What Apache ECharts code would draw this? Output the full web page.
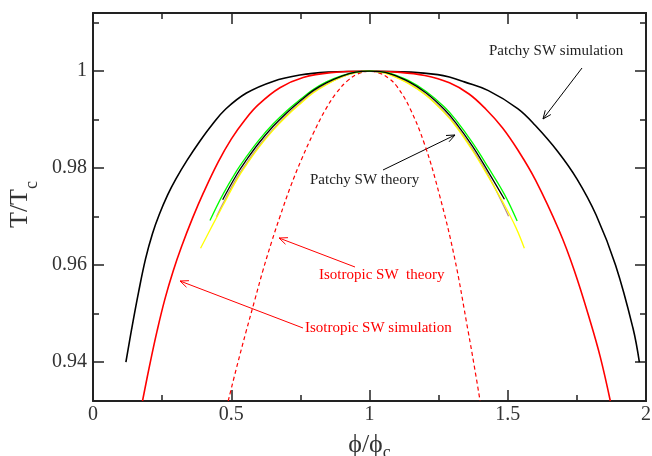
<!DOCTYPE html>
<html>
<head>
<meta charset="utf-8">
<script src="https://cdn.jsdelivr.net/npm/echarts@6/dist/echarts.min.js"></script>
<style>
  html, body { margin: 0; padding: 0; background: #fff; }
  #chart { width: 652px; height: 456px; }
</style>
</head>
<body>
<div id="chart"></div>
<script>
// Coexistence curves T/Tc versus phi/phi_c

// Patchy square-well, simulation
const phiPatchySim = [0.119, 0.14, 0.165, 0.19, 0.215, 0.24, 0.27, 0.30, 0.34, 0.387, 0.43, 0.48, 0.555, 0.651, 0.748, 0.85, 1.0,
                      1.15, 1.247, 1.289, 1.343, 1.43, 1.536, 1.60, 1.68, 1.75, 1.82, 1.89, 1.953, 1.976];
const tPatchySim   = [0.940, 0.9469, 0.9545, 0.9613, 0.9665, 0.9705, 0.9745, 0.9778, 0.9816, 0.9856, 0.9889, 0.9922, 0.9955, 0.9979, 0.9992, 0.9998, 1.0,
                      0.9998, 0.9993, 0.9988, 0.9978, 0.9960, 0.9923, 0.9888, 0.9835, 0.9778, 0.9703, 0.9600, 0.9470, 0.940];

// Isotropic square-well, simulation
const phiIsoSim = [0.179, 0.205, 0.232, 0.26, 0.29, 0.32, 0.36, 0.40, 0.453, 0.50, 0.55, 0.60, 0.676, 0.76, 0.86, 1.0,
                   1.1, 1.2, 1.289, 1.36, 1.422, 1.48, 1.536, 1.60, 1.687, 1.74, 1.798, 1.835, 1.871];
const tIsoSim   = [0.932, 0.9394, 0.9465, 0.9530, 0.9588, 0.9638, 0.9697, 0.9750, 0.9813, 0.9860, 0.9900, 0.9932, 0.9966, 0.9987, 0.9997, 1.0,
                   0.9998, 0.9991, 0.9976, 0.9953, 0.9921, 0.9884, 0.9838, 0.9776, 0.9670, 0.9590, 0.9485, 0.9410, 0.932];

// Isotropic square-well, theory
const phiIsoTheory = [0.489, 0.522, 0.555, 0.585, 0.615, 0.646, 0.676, 0.715, 0.754, 0.796, 0.84, 0.88, 0.92, 0.96, 1.0,
                      1.036, 1.07, 1.10, 1.145, 1.20, 1.253, 1.307, 1.356, 1.378, 1.40];
const tIsoTheory   = [0.932, 0.9395, 0.9466, 0.9528, 0.9590, 0.9648, 0.9700, 0.9763, 0.9818, 0.9871, 0.9920, 0.9955, 0.9980, 0.9995, 1.0,
                      0.9996, 0.9985, 0.9968, 0.9925, 0.9848, 0.9745, 0.9617, 0.9466, 0.9395, 0.932];

// Patchy square-well, theory (four variants)
const phiTheoryBlack = [0.469, 0.52, 0.555, 0.60, 0.651, 0.70, 0.748, 0.796, 0.844, 0.90, 0.95, 1.0,
                        1.04, 1.072, 1.14, 1.205, 1.271, 1.313, 1.373, 1.43, 1.488];
const tTheoryBlack   = [0.9735, 0.9787, 0.9817, 0.9852, 0.9886, 0.9914, 0.9938, 0.9960, 0.9976, 0.9990, 0.9998, 1.0,
                        0.9999, 0.9995, 0.9979, 0.9955, 0.9921, 0.9893, 0.9845, 0.9792, 0.9736];

const phiTheoryGreen = [0.423, 0.469, 0.52, 0.555, 0.60, 0.651, 0.70, 0.748, 0.796, 0.844, 0.90, 0.95, 1.0,
                        1.04, 1.072, 1.14, 1.205, 1.271, 1.313, 1.373, 1.43, 1.488, 1.534];
const tTheoryGreen   = [0.9692, 0.9745, 0.9795, 0.9824, 0.9858, 0.9891, 0.9918, 0.9941, 0.9962, 0.9978, 0.9991, 0.9998, 1.0,
                        0.9999, 0.9996, 0.9981, 0.9958, 0.9926, 0.9899, 0.9852, 0.9801, 0.9746, 0.9691];

const phiTheoryYellow = [0.389, 0.43, 0.469, 0.52, 0.555, 0.60, 0.651, 0.70, 0.748, 0.796, 0.844, 0.90, 0.95, 1.0,
                         1.04, 1.072, 1.14, 1.205, 1.271, 1.313, 1.373, 1.43, 1.488, 1.53, 1.56];
const tTheoryYellow   = [0.9635, 0.9680, 0.9722, 0.9776, 0.9807, 0.9843, 0.9878, 0.9907, 0.9932, 0.9955, 0.9972, 0.9988, 0.9997, 1.0,
                         0.9998, 0.9993, 0.9975, 0.9950, 0.9914, 0.9886, 0.9836, 0.9782, 0.9724, 0.9677, 0.9635];

const phiTheoryBrown = [0.447, 0.469, 0.52, 0.555, 0.60, 0.651, 0.70, 0.748, 0.796, 0.844, 0.90, 0.95, 1.0,
                        1.04, 1.072, 1.14, 1.205, 1.271, 1.313, 1.373, 1.43, 1.503];
const tTheoryBrown   = [0.9700, 0.9726, 0.9780, 0.9810, 0.9846, 0.9880, 0.9909, 0.9934, 0.9957, 0.9973, 0.9988, 0.9997, 1.0,
                        0.9998, 0.9994, 0.9976, 0.9951, 0.9916, 0.9888, 0.9839, 0.9785, 0.9701];

// Axis ticks
const yMajorTicks = [0.94, 0.96, 0.98, 1.0];
const yMinorTicks = [0.95, 0.97, 0.99, 1.01];

// Text annotations with arrows (pixel positions on the canvas)
const annotations = [
  { text: 'Patchy SW simulation', x: 489, y: 56, color: '#222', stroke: '#000', from: [582, 68], to: [543, 119] },
  { text: 'Patchy SW theory', x: 310, y: 185, color: '#222', stroke: '#000', from: [383, 170], to: [455, 135] },
  { text: 'Isotropic SW  theory', x: 319, y: 280, color: '#ff0000', stroke: '#ff0000', from: [355, 267], to: [279, 238] },
  { text: 'Isotropic SW simulation', x: 305, y: 333, color: '#ff0000', stroke: '#ff0000', from: [303, 328], to: [180, 281] }
];

const pairs = (xs, ys) => xs.map((x, i) => [x, ys[i]]);
const SERIF = '"Liberation Serif", "Times New Roman", "DejaVu Serif", serif';
const AXIS_COLOR = '#222';

function lineSeries(xs, ys, color, width, dashed) {
  return {
    type: 'line',
    data: pairs(xs, ys),
    showSymbol: false,
    smooth: 0.4,
    clip: true,
    lineStyle: { color: color, width: width, type: dashed ? [4, 3] : 'solid' },
    emphasis: { disabled: true },
    silent: true
  };
}

const axisLine = { show: true, lineStyle: { color: AXIS_COLOR, width: 2 } };
const tickStyle = { color: AXIS_COLOR, width: 1.5 };

function xAxisCfg(pos, withLabels) {
  return {
    type: 'value', position: pos, min: 0, max: 2, interval: 0.5,
    axisLine: axisLine,
    axisTick: { show: true, inside: true, length: 11, lineStyle: tickStyle },
    minorTick: { show: true, splitNumber: 2, length: 6, lineStyle: tickStyle },
    splitLine: { show: false }, minorSplitLine: { show: false },
    axisLabel: withLabels ? {
      show: true, margin: 4, color: '#333', fontFamily: SERIF, fontSize: 20,
      formatter: v => String(+v.toFixed(2))
    } : { show: false },
    name: withLabels ? '{m|\u03D5/\u03D5}{s|c}' : '',
    nameLocation: 'middle',
    nameGap: 31,
    nameTextStyle: {
      rich: {
        m: { fontFamily: SERIF, fontSize: 26, color: '#333', padding: [0, 0, 4, 0], verticalAlign: 'bottom' },
        s: { fontFamily: SERIF, fontSize: 18, color: '#333', verticalAlign: 'bottom' }
      }
    }
  };
}

function yAxisCfg(pos, ticks, len, withLabels) {
  return {
    type: 'value', position: pos, min: 0.932, max: 1.012,
    axisLine: withLabels || pos === 'right' ? axisLine : { show: false },
    axisTick: { show: true, inside: true, length: len, lineStyle: tickStyle, customValues: ticks },
    splitLine: { show: false },
    axisLabel: withLabels ? {
      show: true, margin: 6, color: '#333', fontFamily: SERIF, fontSize: 20,
      customValues: ticks,
      formatter: v => String(+v.toFixed(2))
    } : { show: false },
    name: withLabels ? '{m|T/T}{s|c}' : '',
    nameLocation: 'middle',
    nameRotate: 90,
    nameGap: 50,
    nameTextStyle: {
      rich: {
        m: { fontFamily: SERIF, fontSize: 26, color: '#333', padding: [0, 0, 8, 5], verticalAlign: 'bottom' },
        s: { fontFamily: SERIF, fontSize: 18, color: '#333', verticalAlign: 'bottom' }
      }
    }
  };
}

// Open "V" arrowheads drawn as polylines
function arrowGraphics(a) {
  const [x1, y1] = a.from, [x2, y2] = a.to;
  const ang = Math.atan2(y2 - y1, x2 - x1);
  const L = 9, spread = 0.4;
  const h1 = [x2 - L * Math.cos(ang - spread), y2 - L * Math.sin(ang - spread)];
  const h2 = [x2 - L * Math.cos(ang + spread), y2 - L * Math.sin(ang + spread)];
  return [
    { type: 'polyline', silent: true, shape: { points: [a.from, a.to] }, style: { stroke: a.stroke, lineWidth: 1, fill: null } },
    { type: 'polyline', silent: true, shape: { points: [h1, a.to, h2] }, style: { stroke: a.stroke, lineWidth: 1, fill: null } },
    { type: 'text', silent: true, x: a.x, y: a.y - 5,
      style: { text: a.text, fill: a.color, font: '15px ' + SERIF, verticalAlign: 'middle', align: 'left' } }
  ];
}

const chart = echarts.init(document.getElementById('chart'), null, { renderer: 'canvas' });
chart.setOption({
  animation: false,
  backgroundColor: '#fff',
  grid: { left: 93, top: 13, width: 553, height: 388, containLabel: false, outerBoundsMode: 'none' },
  xAxis: [xAxisCfg('bottom', true), xAxisCfg('top', false)],
  yAxis: [
    yAxisCfg('left', yMajorTicks, 11, true),
    yAxisCfg('left', yMinorTicks, 6, false),
    yAxisCfg('right', yMajorTicks, 11, false),
    yAxisCfg('right', yMinorTicks, 6, false)
  ],
  series: [
    lineSeries(phiPatchySim, tPatchySim, '#000000', 1.6, false),
    lineSeries(phiIsoSim, tIsoSim, '#ff0000', 1.6, false),
    lineSeries(phiIsoTheory, tIsoTheory, '#ff0000', 1.2, true),
    lineSeries(phiTheoryBrown, tTheoryBrown, 'rgb(188,143,143)', 1.3, false),
    lineSeries(phiTheoryYellow, tTheoryYellow, '#ffff00', 1.3, false),
    lineSeries(phiTheoryGreen, tTheoryGreen, '#00ff00', 1.3, false),
    lineSeries(phiTheoryBlack, tTheoryBlack, '#000000', 1.3, false)
  ],
  graphic: annotations.flatMap(arrowGraphics)
});
</script>
</body>
</html>
